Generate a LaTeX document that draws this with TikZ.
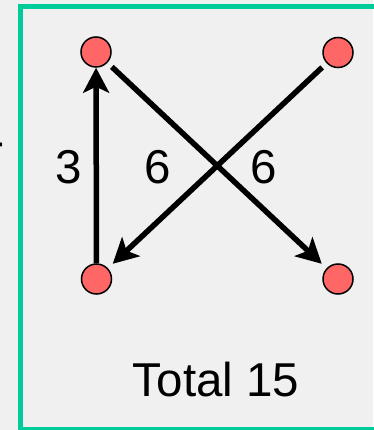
\documentclass[tikz,border=0pt]{standalone}
\usepackage{fontspec}
\setmainfont{Liberation Sans}
\usetikzlibrary{arrows.meta}
\definecolor{panelbg}{RGB}{240,240,240}
\definecolor{framegreen}{RGB}{0,204,153}
\definecolor{vertexred}{RGB}{255,102,102}
\begin{document}
\begin{tikzpicture}[x=1pt,y=-1pt,
  vertex/.style={circle, draw=black, line width=1.5pt, fill=vertexred,
                 minimum size=30pt, inner sep=0pt},
  edge/.style={line width=5.5pt, -{Stealth[length=25pt,width=26pt,inset=6pt]}},
  gapped/.style={shorten <=6pt, shorten >=6.5pt},
  weight/.style={font=\fontsize{47.5}{57}\selectfont, inner sep=0pt, anchor=base}
]
% canvas and panel frame
\useasboundingbox[fill=panelbg] (0,0) rectangle (373,430);
\draw[framegreen, line width=5.5pt] (20.3,6.7) rectangle (395,429.7);
% tail of the neighbouring panel's caption
\node[weight, anchor=base west] (cut) at (-13,168) {r};

% vertices
\node[vertex] (tl) at (96,52) {};
\node[vertex] (tr) at (338,52.5) {};
\node[vertex] (bl) at (96.5,279) {};
\node[vertex] (br) at (338,279) {};

% weighted edges
\draw[edge] (bl) -- (tl);
\draw[edge, gapped] (tl) -- (br);
\draw[edge, gapped] (tr) -- (bl);

% weights and total
\node[weight] (w3) at (68.4,183) {3};
\node[weight] (w6a) at (158,183) {6};
\node[weight] (w6b) at (264,183) {6};
\node[weight] (total) at (216,396.7) {Total 15};
\end{tikzpicture}
\end{document}
